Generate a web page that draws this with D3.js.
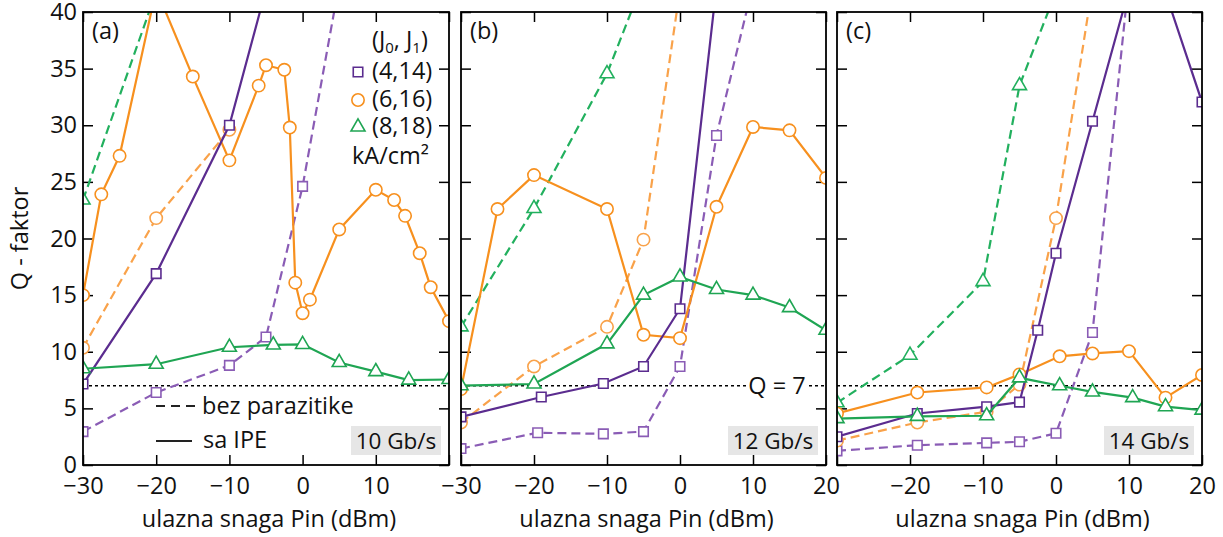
<!DOCTYPE html>
<html>
<head>
<meta charset="utf-8">
<script src="https://cdn.jsdelivr.net/npm/d3@7"></script>
<style>
  body { margin: 0; background: #fff; }
  svg  { display: block; font-family: 'Open Sans', sans-serif; }
</style>
</head>
<body>
<svg id="chart" width="1223" height="537"></svg>
<script>
// ── Data ─────────────────────────────────────────────────────────────────────
const pinTicks   = [-30, -20, -10, 0, 10, 20];
const qTicks     = [0, 5, 10, 15, 20, 25, 30, 35, 40];
const pinLabels  = [[-30, -20, -10, 0, 10], [-30, -20, -10, 0, 10, 20], [-20, -10, 0, 10, 20]];
const panelTags  = ['(a)', '(b)', '(c)'];
const bitRates   = ['10 Gb/s', '12 Gb/s', '14 Gb/s'];
const currents   = ['(4,14)', '(6,16)', '(8,18)'];
const qLimit     = 7;

// [Pin dBm, Q]; "ipe" = sa IPE (solid), "bez" = bez parazitike (dashed)
// panel (a) 10 Gb/s
const a_4_ipe = [[-30, 7.15], [-20, 16.9], [-10, 30.0], [-5, 42]];
const a_4_bez = [[-30, 2.95], [-20, 6.4], [-10, 8.8], [-5, 11.3], [0, 24.6], [5, 42.5]];
const a_6_ipe = [[-30, 15.0], [-27.5, 23.9], [-25, 27.3], [-20, 42], [-15, 34.3], [-10, 26.9],
                 [-6, 33.5], [-5, 35.3], [-2.5, 34.9], [-1.75, 29.8], [-1, 16.1], [0, 13.4],
                 [1, 14.6], [5, 20.8], [10, 24.3], [12.5, 23.4], [14, 22.0], [16, 18.7],
                 [17.5, 15.7], [20, 12.7]];
const a_6_bez = [[-30, 10.35], [-20, 21.8], [-10, 29.6]];
const a_8_ipe = [[-30, 8.5], [-20, 8.9], [-10, 10.4], [-4, 10.6], [0, 10.65], [5, 9.05],
                 [10, 8.25], [14.5, 7.5], [20, 7.55]];
const a_8_bez = [[-30, 23.4], [-20, 41.8]];

// panel (b) 12 Gb/s
const b_4_ipe = [[-30, 4.25], [-19, 6.0], [-10.5, 7.2], [-5, 8.7], [0, 13.8], [5, 42.3]];
const b_4_bez = [[-30, 1.45], [-19.5, 2.85], [-10.5, 2.75], [-5, 2.95], [0, 8.7], [5, 29.1], [10, 42.4]];
const b_6_ipe = [[-30, 6.7], [-25, 22.6], [-20, 25.6], [-10, 22.6], [-5, 11.5], [0, 11.2],
                 [5, 22.8], [10, 29.85], [15, 29.55], [20, 25.35]];
const b_6_bez = [[-30, 3.75], [-20, 8.7], [-10, 12.2], [-5, 19.9], [0, 42]];
const b_8_ipe = [[-30, 7.0], [-20, 7.15], [-10, 10.7], [-5, 15.0], [0, 16.6], [5, 15.5],
                 [10, 15.0], [15, 13.9], [20, 11.9]];
const b_8_bez = [[-30, 12.2], [-20, 22.65], [-10, 34.55], [-5, 42.8]];

// panel (c) 14 Gb/s
const c_4_ipe = [[-30, 2.5], [-19, 4.55], [-9.5, 5.15], [-5, 5.55], [-2.5, 11.9], [0, 18.7],
                 [5, 30.35], [10, 42], [15, 41.7], [20, 32.05]];
const c_4_bez = [[-30, 1.25], [-19, 1.75], [-9.5, 1.95], [-5, 2.05], [0, 2.8], [5, 11.7], [10, 43]];
const c_6_ipe = [[-30, 4.55], [-19, 6.4], [-9.5, 6.85], [-5, 8.0], [0.5, 9.6], [5, 9.85],
                 [10, 10.05], [15, 5.95], [20, 7.95]];
const c_6_bez = [[-30, 2.15], [-19, 3.75], [-9.5, 4.7], [-5, 7.1], [0, 21.8], [5, 42.3]];
const c_8_ipe = [[-30, 4.1], [-19, 4.3], [-9.5, 4.35], [-5, 7.7], [0.5, 7.0], [5, 6.45],
                 [10.5, 5.95], [15, 5.15], [20, 4.85]];
const c_8_bez = [[-30, 5.5], [-20, 9.7], [-10, 16.2], [-5, 33.5], [0, 41.8]];

const panelData = [
  { ipe: [a_4_ipe, a_6_ipe, a_8_ipe], bez: [a_4_bez, a_6_bez, a_8_bez] },
  { ipe: [b_4_ipe, b_6_ipe, b_8_ipe], bez: [b_4_bez, b_6_bez, b_8_bez] },
  { ipe: [c_4_ipe, c_6_ipe, c_8_ipe], bez: [c_4_bez, c_6_bez, c_8_bez] },
];

// ── Styles ───────────────────────────────────────────────────────────────────
const SOLID_COLORS = ['#5b2c8f', '#f7901e', '#1fa553'];
const DASH_COLORS  = ['#8a5cb5', '#f9a24a', '#22b05e'];
const SYMBOLS      = [d3.symbolSquare, d3.symbolCircle, d3.symbolTriangle];
const SYMBOL_SIZE  = [90, 120, 85];

// ── Layout ───────────────────────────────────────────────────────────────────
const panelX = [[83, 449], [461, 826], [837, 1202]];
const plotTop = 12, plotBottom = 465;
const FONT = 23.5;

const svg = d3.select('#chart');

panelX.forEach(([x0, x1], p) => {
  const x = d3.scaleLinear().domain([-30, 20]).range([x0, x1]);
  const y = d3.scaleLinear().domain([0, 40]).range([plotBottom, plotTop]);
  const g = svg.append('g');

  g.append('clipPath').attr('id', `clip-${p}`)
    .append('rect').attr('x', x0).attr('y', plotTop).attr('width', x1 - x0).attr('height', plotBottom - plotTop);

  // axes, ticks inward on all sides
  const fmt = d => pinLabels[p].includes(d) ? d3.format('')(d) : '';
  const styleAxis = sel => {
    sel.select('.domain').remove();
    sel.selectAll('line').attr('stroke', '#000').attr('stroke-width', 1.5);
    sel.selectAll('text').attr('font-size', FONT).attr('fill', '#111')
      .attr('font-family', "'Open Sans', sans-serif");
  };
  g.append('g').attr('transform', `translate(0,${plotBottom})`)
    .call(d3.axisBottom(x).tickValues(pinTicks).tickSizeInner(-10).tickSizeOuter(0)
      .tickPadding(12).tickFormat(fmt))
    .call(styleAxis);
  g.append('g').attr('transform', `translate(0,${plotTop})`)
    .call(d3.axisTop(x).tickValues(pinTicks).tickSizeInner(-10).tickSizeOuter(0).tickFormat(''))
    .call(styleAxis);
  g.append('g').attr('transform', `translate(${x0},0)`)
    .call(d3.axisLeft(y).tickValues(qTicks).tickSizeInner(-10).tickSizeOuter(0)
      .tickPadding(6).tickFormat(p === 0 ? d3.format('') : ''))
    .call(styleAxis);
  g.append('g').attr('transform', `translate(${x1},0)`)
    .call(d3.axisRight(y).tickValues(qTicks).tickSizeInner(-10).tickSizeOuter(0).tickFormat(''))
    .call(styleAxis);

  // Q = 7 threshold
  g.append('line')
    .attr('x1', x0).attr('x2', x1).attr('y1', y(qLimit)).attr('y2', y(qLimit))
    .attr('stroke', '#000').attr('stroke-width', 1.3).attr('stroke-dasharray', '3,3');

  // series
  const plot = g.append('g').attr('clip-path', `url(#clip-${p})`);
  const line = d3.line().x(d => x(d[0])).y(d => y(d[1]));
  const drawSeries = (pts, k, dashed) => {
    const color = dashed ? DASH_COLORS[k] : SOLID_COLORS[k];
    plot.append('path')
      .datum(pts)
      .attr('d', line)
      .attr('fill', 'none')
      .attr('stroke', color)
      .attr('stroke-width', 2.2)
      .attr('stroke-dasharray', dashed ? '9,5' : null);
    plot.append('g')
      .selectAll('path')
      .data(pts.filter(d => d[1] <= 40))
      .join('path')
        .attr('transform', d => `translate(${x(d[0])},${y(d[1])})`)
        .attr('d', d3.symbol().type(SYMBOLS[k]).size(SYMBOL_SIZE[k]))
        .attr('fill', '#fff')
        .attr('stroke', color)
        .attr('stroke-width', 1.6);
  };
  [0, 1, 2].forEach(k => drawSeries(panelData[p].bez[k], k, true));
  [1, 0, 2].forEach(k => drawSeries(panelData[p].ipe[k], k, false));

  // frame
  g.append('rect')
    .attr('x', x0).attr('y', plotTop).attr('width', x1 - x0).attr('height', plotBottom - plotTop)
    .attr('fill', 'none').attr('stroke', '#000').attr('stroke-width', 1.8);

  // panel tag
  g.append('text').attr('x', x0 + 9).attr('y', 39)
    .attr('font-size', FONT).attr('fill', '#111').text(panelTags[p]);

  // bit-rate box
  const bx = x1 - 98, by = 426;
  g.append('rect').attr('x', bx).attr('y', by).attr('width', 90).attr('height', 29)
    .attr('fill', '#e6e6e6');
  g.append('text').attr('x', bx + 45).attr('y', by + 23)
    .attr('text-anchor', 'middle').attr('font-size', FONT - 1).attr('fill', '#111')
    .text(bitRates[p]);

  // x label
  g.append('text').attr('x', (x0 + x1) / 2 + 3).attr('y', 527)
    .attr('text-anchor', 'middle').attr('font-size', FONT).attr('fill', '#111')
    .text('ulazna snaga Pin (dBm)');

  // Q = 7 label in panel (b)
  if (p === 1) {
    g.append('rect').attr('x', 748).attr('y', 372).attr('width', 60).attr('height', 26).attr('fill', '#fff');
    g.append('text').attr('x', 777).attr('y', 394)
      .attr('text-anchor', 'middle').attr('font-size', FONT).attr('fill', '#111')
      .text(`Q = ${qLimit}`);
  }

  // legends in panel (a)
  if (p === 0) {
    const head = g.append('text').attr('x', 372).attr('y', 48)
      .attr('font-size', FONT).attr('fill', '#111');
    head.append('tspan').text('(J');
    head.append('tspan').attr('font-size', 15).attr('dy', 5).text('0');
    head.append('tspan').attr('dy', -5).text(', J');
    head.append('tspan').attr('font-size', 15).attr('dy', 5).text('1');
    head.append('tspan').attr('dy', -5).text(')');

    const rowY = [72, 100, 127];
    currents.forEach((c, k) => {
      g.append('path')
        .attr('transform', `translate(358,${rowY[k]})`)
        .attr('d', d3.symbol().type(SYMBOLS[k]).size(SYMBOL_SIZE[k]))
        .attr('fill', '#fff').attr('stroke', SOLID_COLORS[k]).attr('stroke-width', 1.6);
      g.append('text').attr('x', 372).attr('y', rowY[k] + 7)
        .attr('font-size', FONT).attr('fill', '#111').text(c);
    });
    g.append('text').attr('x', 352).attr('y', 164)
      .attr('font-size', FONT).attr('fill', '#111').text('kA/cm²');

    g.append('line').attr('x1', 156).attr('x2', 200).attr('y1', 406).attr('y2', 406)
      .attr('stroke', '#222').attr('stroke-width', 1.8).attr('stroke-dasharray', '9,6');
    g.append('text').attr('x', 202).attr('y', 414)
      .attr('font-size', FONT).attr('fill', '#111').text('bez parazitike');
    g.append('line').attr('x1', 156).attr('x2', 192).attr('y1', 441).attr('y2', 441)
      .attr('stroke', '#222').attr('stroke-width', 1.8);
    g.append('text').attr('x', 203).attr('y', 448)
      .attr('font-size', FONT).attr('fill', '#111').text('sa IPE');
  }
});

// y label
svg.append('text')
  .attr('transform', `translate(28,${(plotTop + plotBottom) / 2}) rotate(-90)`)
  .attr('text-anchor', 'middle').attr('font-size', FONT).attr('fill', '#111')
  .text('Q - faktor');
</script>
</body>
</html>
